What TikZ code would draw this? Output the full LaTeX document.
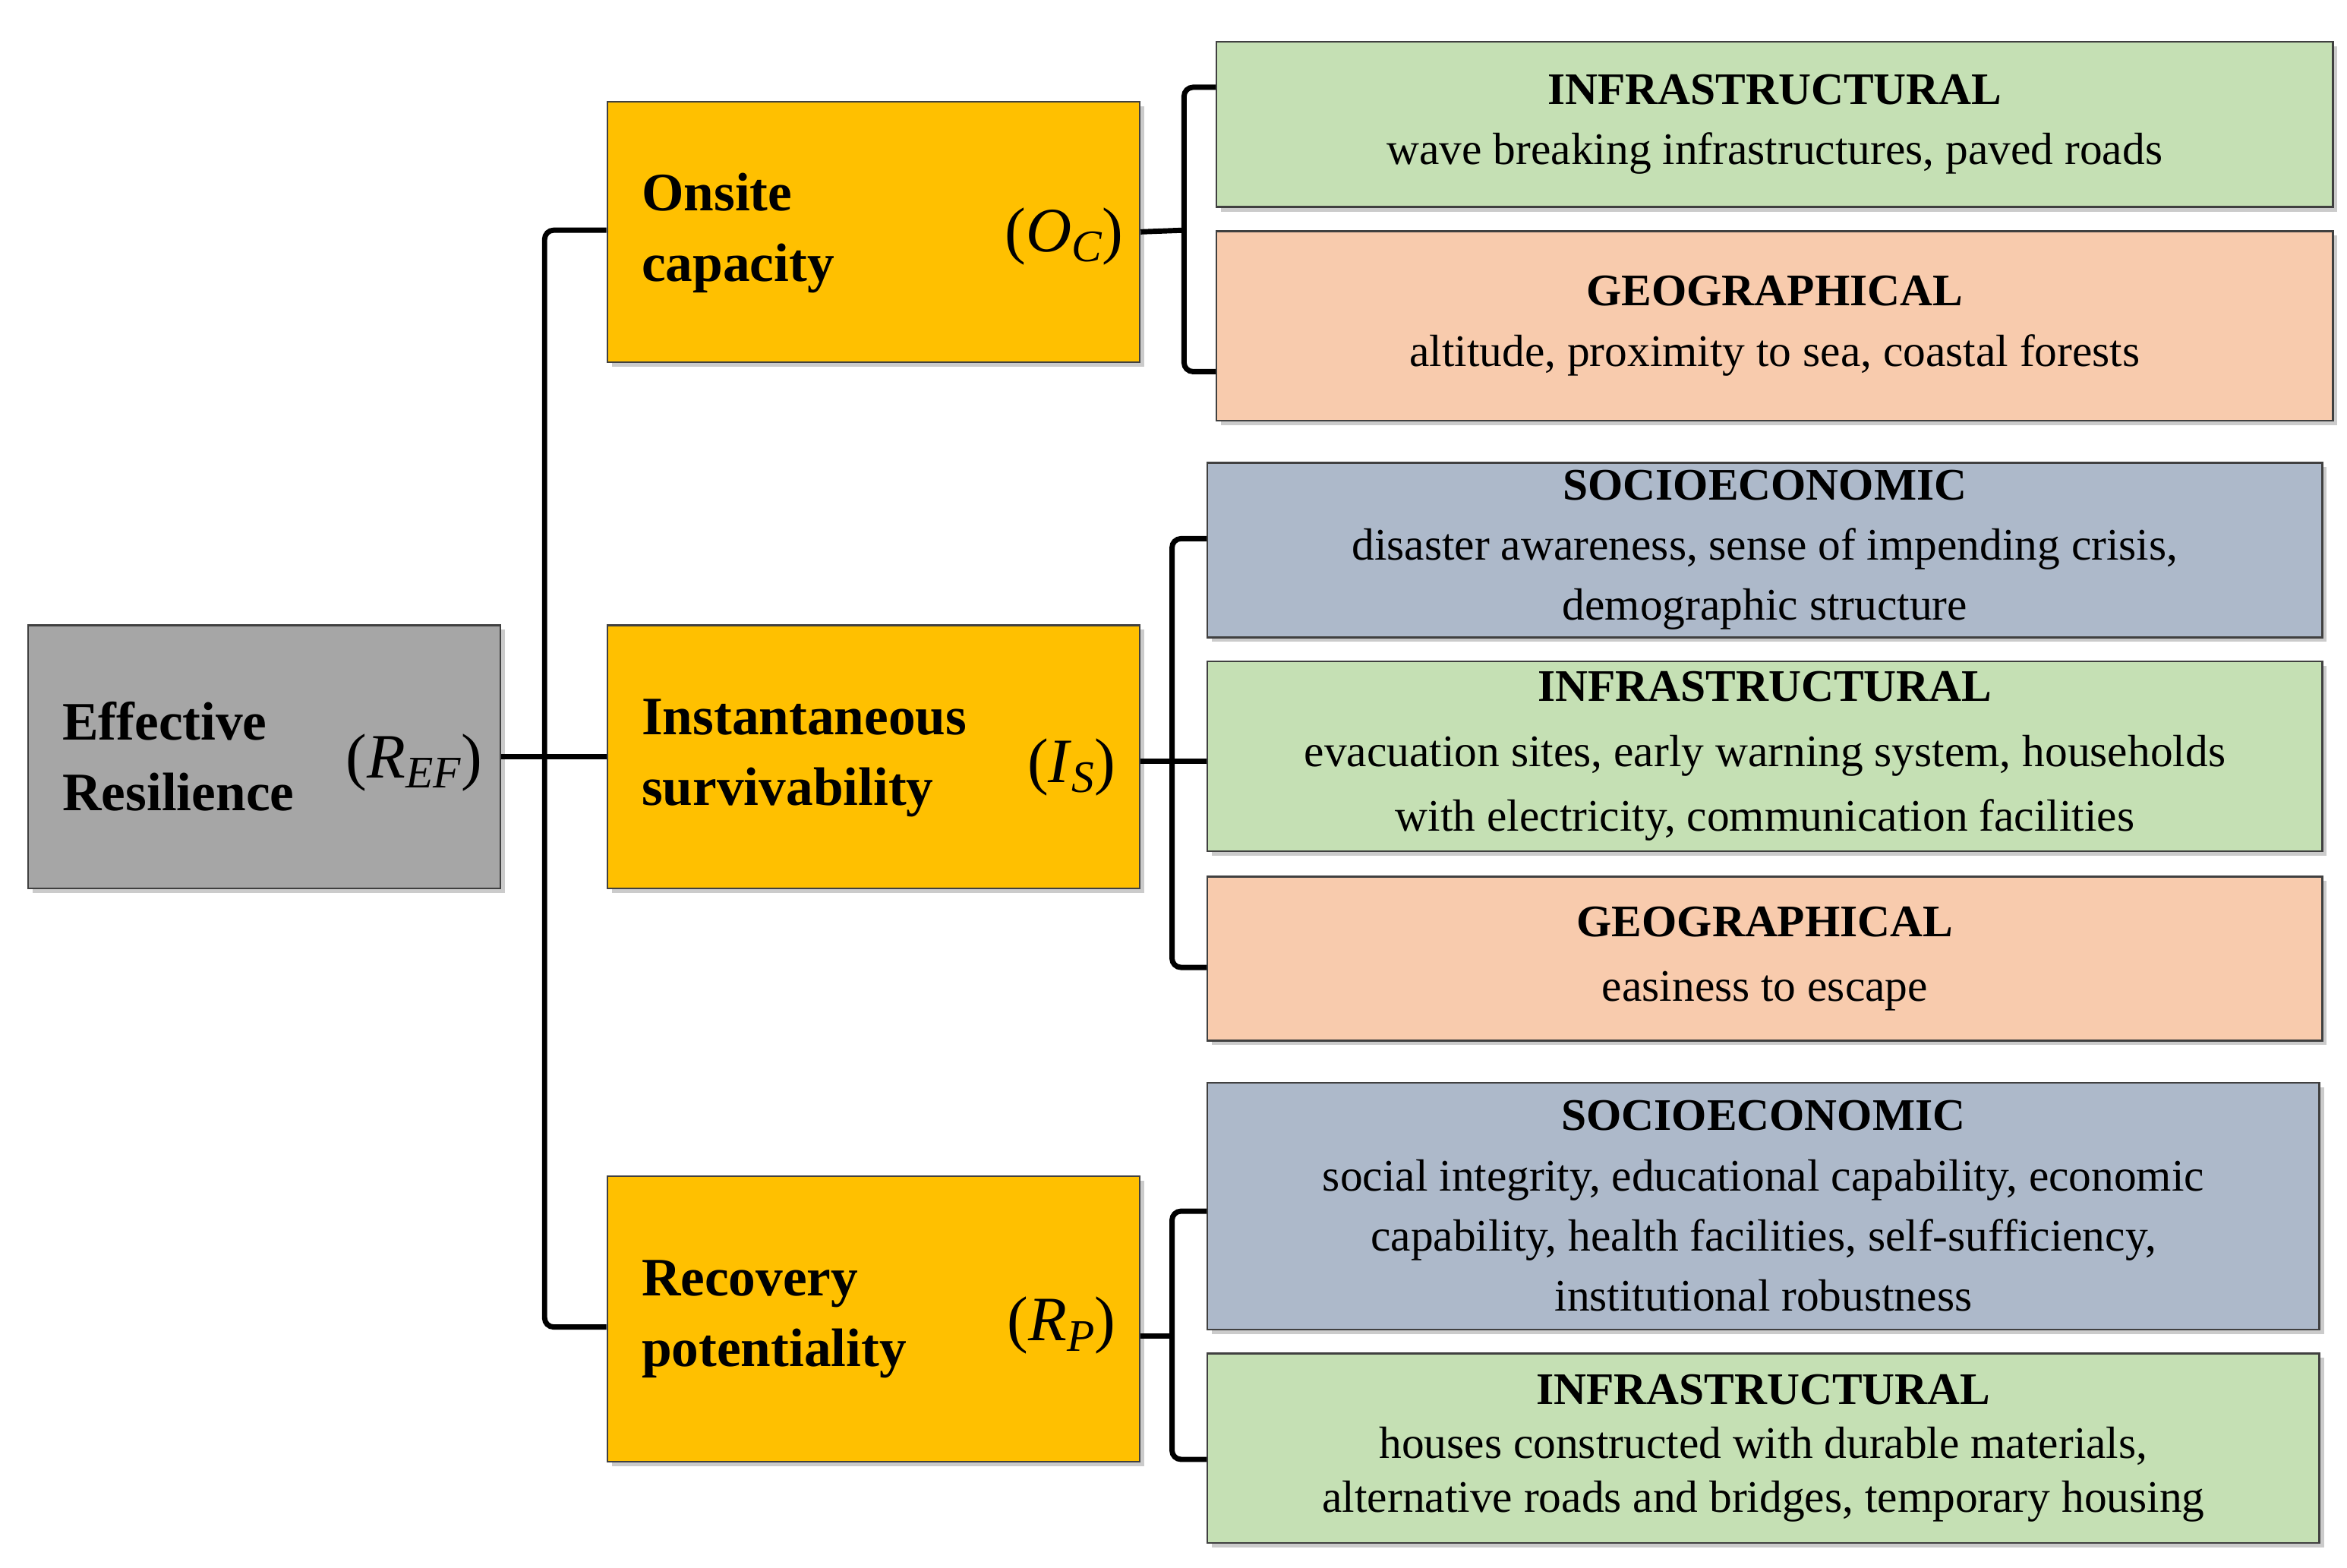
\documentclass[tikz,border=0pt]{standalone}
\usepackage{fontspec}
\setmainfont{Liberation Serif}
\usetikzlibrary{shadows}
\definecolor{cgray}{HTML}{A6A6A6}
\definecolor{corange}{HTML}{FFC000}
\definecolor{cgreen}{HTML}{C5E0B4}
\definecolor{cpeach}{HTML}{F8CBAD}
\definecolor{cblue}{HTML}{ADB9CA}
\newcommand{\sym}[2]{{\fontsize{42}{42}\selectfont(\textit{#1}\raisebox{-0.35ex}{\fontsize{30}{30}\selectfont\textit{#2}})}}
\begin{document}
\begin{tikzpicture}[x=1pt,y=-1pt,
  box/.style={draw=black!75,line width=1.2pt,anchor=north west,inner sep=0pt,drop shadow={shadow xshift=3pt,shadow yshift=-3pt,fill=black!40}},
  cat/.style={box,align=center,font=\fontsize{30}{40}\selectfont},
  conn/.style={line width=3.5pt,rounded corners=6pt}]
\useasboundingbox (0,0) rectangle (1560,1042);
\fill[white] (0,0) rectangle (1560,1042);
% left main boxes
\node[box,fill=cgray,minimum width=314pt,minimum height=175pt] (ref) at (18,415) {};
\node[box,fill=corange,minimum width=354pt,minimum height=173pt] (oc) at (403,67) {};
\node[box,fill=corange,minimum width=354pt,minimum height=175pt] (is) at (403,415) {};
\node[box,fill=corange,minimum width=354pt,minimum height=190pt] (rp) at (403,781) {};
\node[anchor=west,align=left,font=\fontsize{36}{47}\selectfont\bfseries] (reft) at (38,503) {Effective\\Resilience};
\node[anchor=east] (refs) at (324,507) {\sym{R}{EF}};
\node[anchor=west,align=left,font=\fontsize{36}{47}\selectfont\bfseries] (oct) at (423,155) {Onsite\\capacity};
\node[anchor=east] (ocs) at (750,157) {\sym{O}{C}};
\node[anchor=west,align=left,font=\fontsize{36}{47}\selectfont\bfseries] (ist) at (423,504) {Instantaneous\\survivability};
\node[anchor=east] (iss) at (745,510) {\sym{I}{S}};
\node[anchor=west,align=left,font=\fontsize{36}{47}\selectfont\bfseries] (rpt) at (423,877) {Recovery\\potentiality};
\node[anchor=east] (rps) at (745,881) {\sym{R}{P}};
% right boxes
\node[cat,fill=cgreen,minimum width=742pt,minimum height=110pt] (g1) at (808,27) {\textbf{INFRASTRUCTURAL}\\wave breaking infrastructures, paved roads};
\node[cat,fill=cpeach,minimum width=742pt,minimum height=126pt] (o1) at (808,153) {\textbf{GEOGRAPHICAL}\\altitude, proximity to sea, coastal forests};
\node[cat,fill=cblue,minimum width=741pt,minimum height=116pt] (b1) at (802,307) {\textbf{SOCIOECONOMIC}\\disaster awareness, sense of impending crisis,\\demographic structure};
\node[cat,fill=cgreen,minimum width=741pt,minimum height=126pt,font=\fontsize{30}{43}\selectfont] (g2) at (802,439) {\textbf{INFRASTRUCTURAL}\\evacuation sites, early warning system, households\\with electricity, communication facilities};
\node[cat,fill=cpeach,minimum width=741pt,minimum height=109pt,font=\fontsize{30}{43}\selectfont] (o2) at (802,582) {\textbf{GEOGRAPHICAL}\\easiness to escape};
\node[cat,fill=cblue,minimum width=739pt,minimum height=164pt] (b2) at (802,719) {\textbf{SOCIOECONOMIC}\\social integrity, educational capability, economic\\capability, health facilities, self-sufficiency,\\institutional robustness};
\node[cat,fill=cgreen,minimum width=739pt,minimum height=126pt,font=\fontsize{30}{36}\selectfont] (g3) at (802,899) {\textbf{INFRASTRUCTURAL}\\houses constructed with durable materials,\\alternative roads and bridges, temporary housing};
% connectors
\draw[conn] (ref.east) -- (is.west);
\draw[conn] (403,153) -- (362,153) -- (362,882) -- (403,882);
\draw[conn] (oc.east) -- (787,153);
\draw[conn] (g1.west |- 0,58) -- (787,58) -- (787,247) -- (o1.west |- 0,247);
\draw[conn] (is.east |- 0,506) -- (b1.west |- 0,506);
\draw[conn] (b1.west |- 0,358) -- (779,358) -- (779,643) -- (o2.west |- 0,643);
\draw[conn] (rp.east |- 0,888) -- (779,888);
\draw[conn] (b2.west |- 0,805) -- (779,805) -- (779,970) -- (g3.west |- 0,970);
\end{tikzpicture}
\end{document}
